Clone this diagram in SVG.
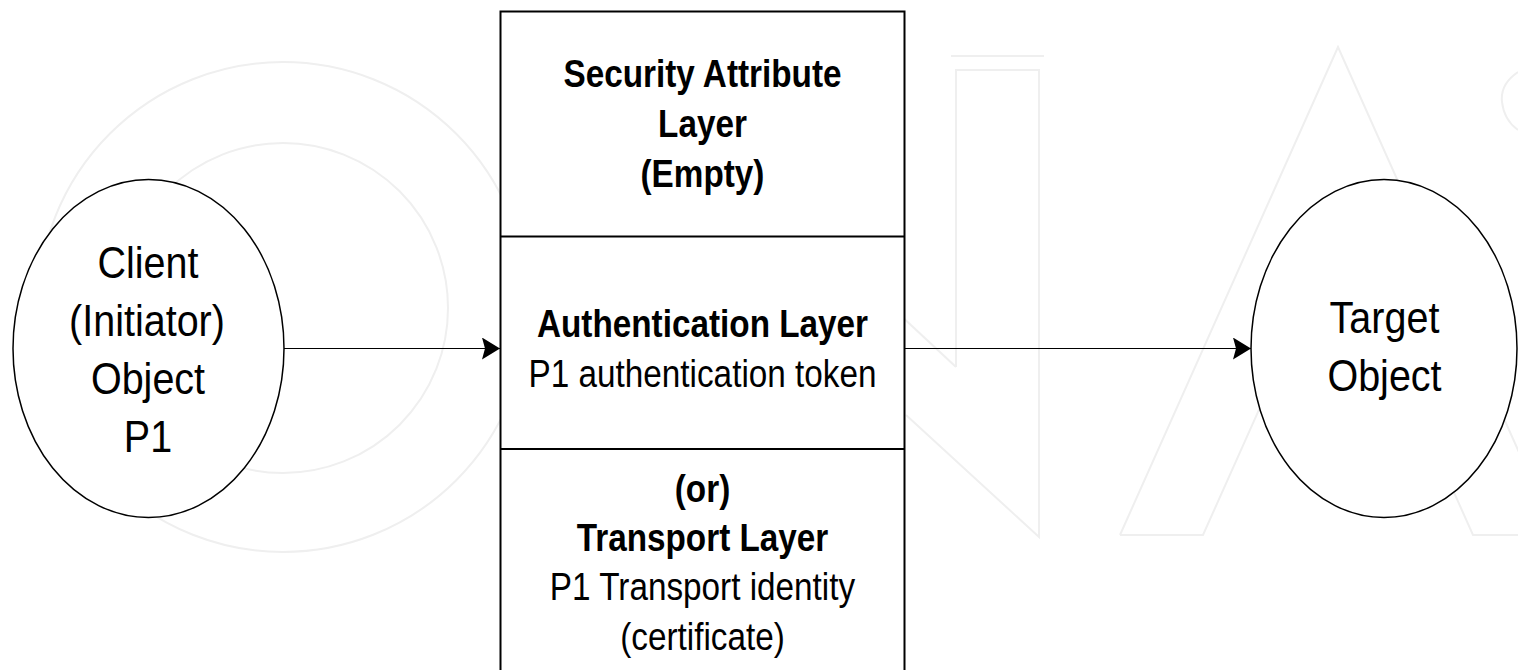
<svg xmlns="http://www.w3.org/2000/svg" width="1518" height="670" viewBox="0 0 1518 670">
<defs>
<style>
.wm{fill:none;stroke:#efefef;stroke-width:2}
.shape{fill:#ffffff;stroke:#000000;stroke-width:1.5}
.box{fill:#ffffff;stroke:#000000;stroke-width:2}
.conn{fill:none;stroke:#000000;stroke-width:1.2}
text{font-family:"Liberation Sans",Arial,sans-serif;fill:#000000;text-anchor:middle}
.b{font-size:39px;font-weight:bold}
.n{font-size:39px}
.e{font-size:45px}
</style>
<marker id="arr" markerUnits="userSpaceOnUse" markerWidth="20" markerHeight="24" refX="18" refY="11" orient="auto">
<path d="M0,0 L18,11 L0,22 L3,11 Z" fill="#000000"/>
</marker>
</defs>
<rect width="1518" height="670" fill="#ffffff"/>
<g id="watermark">
<circle class="wm" cx="283" cy="307" r="245"/>
<circle class="wm" cx="283" cy="308" r="165"/>
<path class="wm" d="M956,367 L956,70 L1039,70 L1039,537 L906,415"/>
<path class="wm" d="M870,287 L956,367"/>
<path class="wm" d="M951,56 L1044,56"/>
<path class="wm" d="M1120,535 L1338,47 L1556,535"/>
<path class="wm" d="M1120,535 L1203,535 L1338,233 L1473,535 L1556,535"/>
<path class="wm" d="M1518,72 Q1500,84 1502,102 Q1504,120 1518,130"/>
</g>
<g id="layer-stack">
<rect class="box" x="500.5" y="11.5" width="404" height="700"/>
<line class="box" x1="500.5" y1="236.5" x2="904.5" y2="236.5"/>
<line class="box" x1="500.5" y1="449" x2="904.5" y2="449"/>
<text class="b" transform="translate(702.5,87) scale(0.854,1)">Security Attribute</text>
<text class="b" transform="translate(702.5,137) scale(0.854,1)">Layer</text>
<text class="b" transform="translate(702.5,187) scale(0.854,1)">(Empty)</text>
<text class="b" transform="translate(702.5,337) scale(0.854,1)">Authentication Layer</text>
<text class="n" transform="translate(702.5,387) scale(0.854,1)">P1 authentication token</text>
<text class="b" transform="translate(702.5,502) scale(0.854,1)">(or)</text>
<text class="b" transform="translate(702.5,551) scale(0.854,1)">Transport Layer</text>
<text class="n" transform="translate(702.5,600) scale(0.854,1)">P1 Transport identity</text>
<text class="n" transform="translate(702.5,650) scale(0.854,1)">(certificate)</text>
</g>
<g id="client">
<ellipse class="shape" cx="148.5" cy="348.5" rx="135.5" ry="169"/>
<text class="e" transform="translate(148,277.6) scale(0.878,1)">Client</text>
<text class="e" transform="translate(147,335.6) scale(0.878,1)">(Initiator)</text>
<text class="e" transform="translate(148,393.6) scale(0.878,1)">Object</text>
<text class="e" transform="translate(148,451.6) scale(0.878,1)">P1</text>
</g>
<g id="target">
<ellipse class="shape" cx="1384" cy="348.5" rx="133" ry="169"/>
<text class="e" transform="translate(1384.5,333) scale(0.878,1)">Target</text>
<text class="e" transform="translate(1384.5,391) scale(0.878,1)">Object</text>
</g>
<g id="connectors">
<line class="conn" x1="284" y1="348.5" x2="500" y2="348.5" marker-end="url(#arr)"/>
<line class="conn" x1="904.5" y1="348.5" x2="1251" y2="348.5" marker-end="url(#arr)"/>
</g>
</svg>
